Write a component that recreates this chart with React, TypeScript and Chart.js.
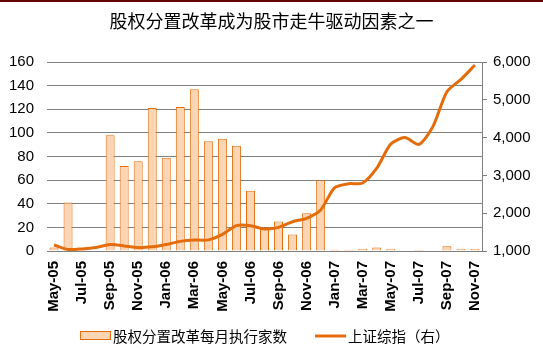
import React, { useEffect, useRef } from "react";
import { Chart, registerables } from "chart.js";

Chart.register(...registerables);

const TITLE = "股权分置改革成为股市走牛驱动因素之一";
const BAR_LABEL = "股权分置改革每月执行家数";
const LINE_LABEL = "上证综指（右）";

const months = [
  "May-05", "Jun-05", "Jul-05", "Aug-05", "Sep-05", "Oct-05", "Nov-05", "Dec-05",
  "Jan-06", "Feb-06", "Mar-06", "Apr-06", "May-06", "Jun-06", "Jul-06", "Aug-06",
  "Sep-06", "Oct-06", "Nov-06", "Dec-06", "Jan-07", "Feb-07", "Mar-07", "Apr-07",
  "May-07", "Jun-07", "Jul-07", "Aug-07", "Sep-07", "Oct-07", "Nov-07",
];

const reformCounts = [
  3, 41, 0, 0, 98, 72, 76, 121,
  79, 122, 137, 93, 95, 89, 51, 19,
  25, 14, 32, 60, 1, 1, 2, 3,
  2, 0, 1, 0, 4, 2, 2,
];

const shIndex = [
  1160, 1040, 1055, 1095, 1170, 1135, 1090, 1110,
  1170, 1255, 1290, 1295, 1440, 1670, 1670, 1585,
  1625, 1775, 1865, 2085, 2675, 2780, 2800, 3190,
  3830, 4000, 3820, 4290, 5215, 5540, 5920,
];

const leftTicks = { min: 0, max: 160, step: 20 };
const rightTicks = { min: 1000, max: 6000, step: 1000 };

const ORANGE = "#E46C0A";
const PEACH = "#FCD5B5";
const GRID = "#808080";
const TICK_FONT = "'Liberation Sans', Arial, sans-serif";
const CJK_FONT = "'Noto Sans CJK SC', sans-serif";

const decorPlugin = {
  id: "decor",
  beforeDraw(chart: any) {
    const ctx = chart.ctx;
    ctx.save();
    ctx.fillStyle = "#660000";
    ctx.fillRect(0, 0, chart.width, 2);
    ctx.restore();
  },
  afterDraw(chart: any) {
    const ctx = chart.ctx;
    const y = 336;
    ctx.save();
    // bar legend
    ctx.fillStyle = PEACH;
    ctx.fillRect(80.5, 331.5, 30, 8);
    ctx.strokeStyle = ORANGE;
    ctx.lineWidth = 1;
    ctx.strokeRect(80.5, 331.5, 30, 8);
    ctx.fillStyle = "#000";
    ctx.font = `14.5px ${CJK_FONT}`;
    ctx.textBaseline = "middle";
    ctx.textAlign = "left";
    ctx.fillText(chart.data.datasets[0].label, 113, y);
    // line legend
    ctx.strokeStyle = ORANGE;
    ctx.lineWidth = 3;
    ctx.beginPath();
    ctx.moveTo(315, y);
    ctx.lineTo(346, y);
    ctx.stroke();
    ctx.fillText(chart.data.datasets[1].label, 348, y);
    ctx.restore();
  },
};

function fmtThousands(v: number) {
  return String(v).replace(/\B(?=(\d{3})+(?!\d))/g, ",");
}

export default function App() {
  const ref = useRef<HTMLCanvasElement | null>(null);

  useEffect(() => {
    if (!ref.current) return;
    const chart = new Chart(ref.current, {
      type: "bar",
      data: {
        labels: months,
        datasets: [
          {
            type: "bar",
            label: BAR_LABEL,
            data: reformCounts,
            backgroundColor: PEACH,
            borderColor: ORANGE,
            borderWidth: 1,
            barPercentage: 0.64,
            categoryPercentage: 1,
            yAxisID: "y",
            order: 1,
          },
          {
            type: "line",
            label: LINE_LABEL,
            data: shIndex,
            borderColor: ORANGE,
            borderWidth: 3,
            pointRadius: 0,
            tension: 0.25,
            fill: false,
            yAxisID: "y1",
            order: 0,
          },
        ],
      } as any,
      options: {
        responsive: false,
        animation: false,
        layout: { padding: 0 },
        plugins: {
          legend: { display: false },
          tooltip: { enabled: false },
          title: {
            display: true,
            text: TITLE,
            color: "#000",
            font: { family: CJK_FONT, size: 18, weight: "normal" },
            padding: { top: 10, bottom: 30.4 },
          },
        },
        scales: {
          x: {
            offset: true,
            grid: { display: false, drawTicks: false },
            border: { display: true, color: GRID, width: 1 },
            ticks: {
              autoSkip: false,
              maxRotation: 90,
              minRotation: 90,
              padding: 10,
              color: "#000",
              font: { family: TICK_FONT, size: 15, weight: "bold" },
              callback: (_v: any, i: number) => (i % 2 === 0 ? months[i] : ""),
            },
            afterFit: (s: any) => {
              s.height = 99;
            },
          },
          y: {
            position: "left",
            min: leftTicks.min,
            max: leftTicks.max,
            ticks: {
              stepSize: leftTicks.step,
              padding: 13,
              color: "#000",
              font: { family: TICK_FONT, size: 15 },
            },
            grid: { color: GRID, lineWidth: 1, drawTicks: false },
            border: { display: false },
            afterFit: (s: any) => {
              s.width = 47;
            },
          },
          y1: {
            position: "right",
            min: rightTicks.min,
            max: rightTicks.max,
            ticks: {
              stepSize: rightTicks.step,
              padding: 6,
              color: "#000",
              font: { family: TICK_FONT, size: 15 },
              callback: (v: any) => fmtThousands(Number(v)),
            },
            grid: { drawOnChartArea: false, drawTicks: true, tickLength: 5, color: GRID },
            border: { display: true, color: GRID, width: 1 },
            afterFit: (s: any) => {
              s.width = 61;
            },
          },
        },
      } as any,
      plugins: [decorPlugin],
    });
    return () => chart.destroy();
  }, []);

  return (
    <div style={{ position: "absolute", left: 0, top: 0, width: 543, height: 350, background: "#fff" }}>
      <canvas ref={ref} width={543} height={350} style={{ display: "block" }} />
    </div>
  );
}
